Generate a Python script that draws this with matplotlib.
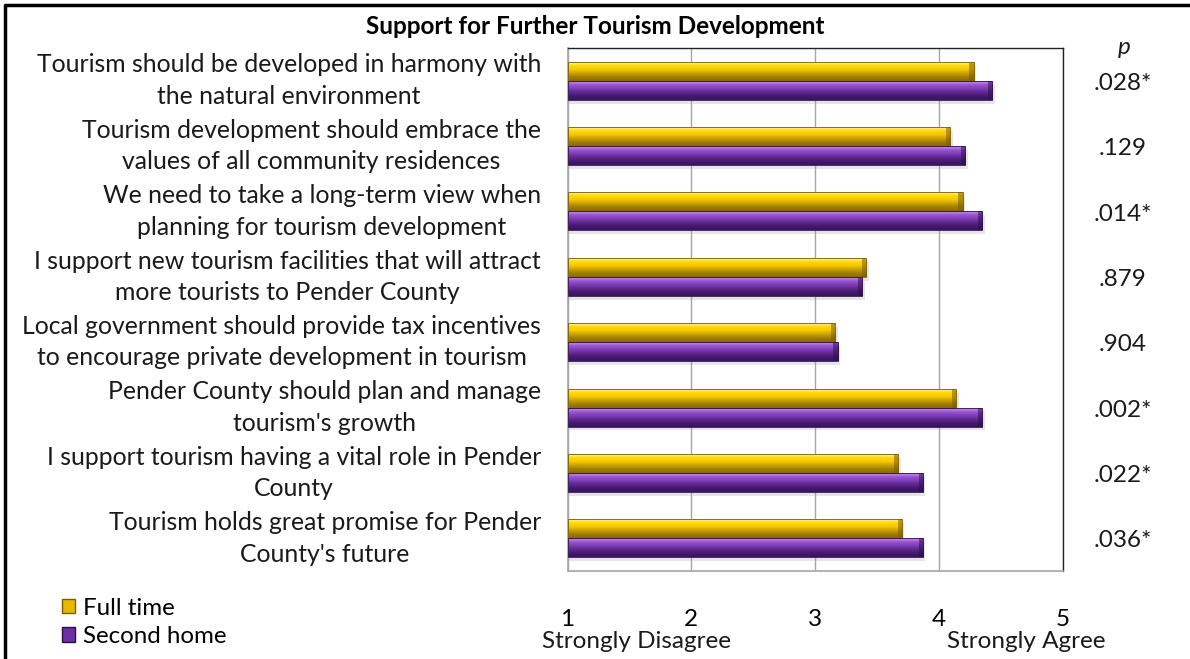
import numpy as np
import matplotlib
matplotlib.use("Agg")
import matplotlib.pyplot as plt
from matplotlib.colors import LinearSegmentedColormap
from matplotlib.patches import Patch
from matplotlib.lines import Line2D
from matplotlib.transforms import blended_transform_factory

plt.rcParams['font.family'] = ['Lato', 'DejaVu Sans']

statements = [
    "Tourism should be developed in harmony with\nthe natural environment",
    "Tourism development should embrace the\nvalues of all community residences",
    "We need to take a long-term view when\nplanning for tourism development",
    "I support new tourism facilities that will attract\nmore tourists to Pender County",
    "Local government should provide tax incentives\nto encourage private development in tourism",
    "Pender County should plan and manage\ntourism's growth",
    "I support tourism having a vital role in Pender\nCounty",
    "Tourism holds great promise for Pender\nCounty's future",
]
full_time = [4.28, 4.09, 4.19, 3.41, 3.16, 4.14, 3.67, 3.70]
second_home = [4.43, 4.21, 4.35, 3.38, 3.18, 4.35, 3.87, 3.87]
p_values = [".028*", ".129", ".014*", ".879", ".904", ".002*", ".022*", ".036*"]
x_ticks = [1, 2, 3, 4, 5]

W, H = 1190, 659
fig = plt.figure(figsize=(W / 100, H / 100), dpi=100)
fig.patch.set_facecolor("white")

left, right, top, bottom = 567.5, 1063, 48, 571
ax = fig.add_axes([left / W, 1 - bottom / H, (right - left) / W, (bottom - top) / H])

gold_cmap = LinearSegmentedColormap.from_list(
    "gold", ["#fff2a0", "#ffd700", "#f5c800", "#c9a000", "#a07c00", "#8a6a00"])
purple_cmap = LinearSegmentedColormap.from_list(
    "purple", ["#c690ef", "#9a55d2", "#7e3cb5", "#5e2890", "#45196e", "#3a1460"])

bar_h = 0.29
y = np.arange(len(statements))


def bevel_bars(ys, values, cmap, edge):
    bars = ax.barh(ys, np.array(values) - 1, left=1, height=bar_h,
                   color="none", edgecolor=edge, linewidth=0.6, zorder=3)
    grad = np.linspace(0, 1, 64).reshape(-1, 1)
    for b, v, yc in zip(bars, values, ys):
        # soft shadow under each bar
        ax.barh(yc + 0.06, v - 1 + 0.02, left=1, height=bar_h,
                color="#9a9a9a", alpha=0.25, linewidth=0, zorder=2)
        im = ax.imshow(grad, cmap=cmap, aspect="auto", zorder=2.5,
                       extent=[1, v, yc + bar_h / 2, yc - bar_h / 2])
        im.set_clip_path(b)
        # darker bevelled tip
        ax.barh(yc, 0.035, left=v - 0.035, height=bar_h,
                color=edge, alpha=0.55, linewidth=0, zorder=2.8)


bevel_bars(y - bar_h / 2, full_time, gold_cmap, "#7a5c00")
bevel_bars(y + bar_h / 2, second_home, purple_cmap, "#2e0f4c")

ax.set_xlim(1, 5)
ax.set_ylim(len(statements) - 0.5, -0.5)
ax.set_xticks(x_ticks)
ax.set_xticklabels([str(t) for t in x_ticks], fontsize=17.5)
ax.tick_params(axis="x", length=0, pad=27)
ax.set_yticks([])
ax.grid(axis="x", color="#a6a6a6", linewidth=1.0, zorder=0)
ax.set_axisbelow(True)
for side in ["left", "bottom"]:
    ax.spines[side].set_color("#a6a6a6")
    ax.spines[side].set_linewidth(1.2)
for side in ["top", "right"]:
    ax.spines[side].set_color("#222222")
    ax.spines[side].set_linewidth(1.0)

trans = blended_transform_factory(ax.transAxes, ax.transData)
for yi, label in zip(y, statements):
    ax.text((541 - left) / (right - left), yi, label, transform=trans,
            ha="right", va="center", multialignment="center",
            fontsize=17.8, linespacing=1.45, color="#1a1a1a")

ptrans = blended_transform_factory(fig.transFigure, ax.transData)
for yi, p in zip(y, p_values):
    ax.text(1123 / W, yi + 0.04, p, transform=ptrans, ha="center", va="center",
            fontsize=17.5, color="#1a1a1a")
fig.text(1124 / W, 1 - 47 / H, "p", ha="center", va="center",
         fontsize=17.5, style="italic", color="#1a1a1a")

fig.text(595 / W, 1 - 26 / H, "Support for Further Tourism Development",
         ha="center", va="center", fontsize=17.5, fontweight="bold")

fig.text(636 / W, 1 - 641 / H, "Strongly Disagree", ha="center", va="center",
         fontsize=17.5, color="#1a1a1a")
fig.text(1026 / W, 1 - 641 / H, "Strongly Agree", ha="center", va="center",
         fontsize=17.5, color="#1a1a1a")

handles = [Patch(facecolor="#e8b800", edgecolor="#7a5c00", label="Full time"),
           Patch(facecolor="#6a2fa0", edgecolor="#2e0f4c", label="Second home")]
fig.legend(handles=handles, loc="upper left", bbox_to_anchor=(52 / W, 1 - 588 / H),
           frameon=False, fontsize=17.4, handlelength=0.55, handleheight=0.55,
           handletextpad=0.35, labelspacing=0.3, borderaxespad=0)

# outer frame along the top and left edges
fig.add_artist(Line2D([5 / W, 5 / W, 1], [0, 1 - 5 / H, 1 - 5 / H],
                      transform=fig.transFigure, color="black", linewidth=2.5))

fig.savefig("out.png", dpi=100)
